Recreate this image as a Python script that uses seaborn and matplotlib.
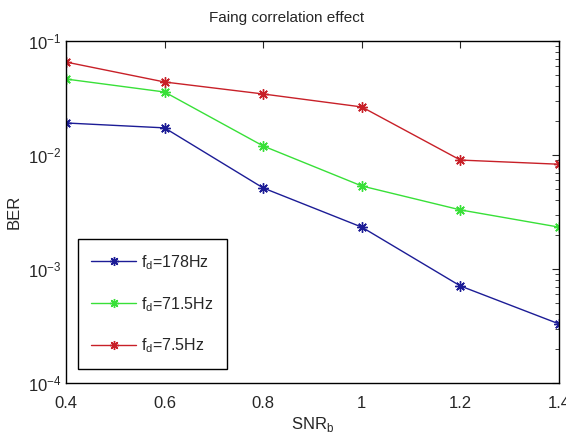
import matplotlib
matplotlib.use("Agg")
import matplotlib.pyplot as plt
import seaborn as sns
import pandas as pd

snr = [0.4, 0.6, 0.8, 1.0, 1.2, 1.4]
ber_178 = [0.0191, 0.0173, 0.00514, 0.00233, 0.00071, 0.00033]
ber_715 = [0.0464, 0.0357, 0.0120, 0.00535, 0.0033, 0.00233]
ber_75 = [0.0654, 0.0437, 0.0343, 0.0264, 0.00903, 0.0083]
labels = ["$\\mathregular{f_d}$=178Hz", "$\\mathregular{f_d}$=71.5Hz", "$\\mathregular{f_d}$=7.5Hz"]
colors = ["#1c1c96", "#38e038", "#c82028"]

df = pd.DataFrame({
    "snr": snr * 3,
    "ber": ber_178 + ber_715 + ber_75,
    "case": [labels[0]] * 6 + [labels[1]] * 6 + [labels[2]] * 6,
})

sns.set_style("white")
plt.rcParams["font.family"] = ["Liberation Sans", "DejaVu Sans"]
plt.rcParams["mathtext.fontset"] = "custom"
plt.rcParams["mathtext.rm"] = "Liberation Sans"

fig = plt.figure(figsize=(5.66, 4.41), dpi=100)
ax = fig.add_axes([0.1166, 0.1315, 0.8710, 0.7755])

sns.lineplot(data=df, x="snr", y="ber", hue="case", palette=colors,
             marker=(8, 2, 0), markersize=7.5, markeredgewidth=1.0, linewidth=1.0,
             ax=ax)
# seaborn paints marker edges white, asterisks need the line colour
for line in ax.get_lines():
    line.set_markeredgecolor(line.get_color())

ax.set_yscale("log")
ax.set_xlim(0.4, 1.4)
ax.set_ylim(1e-4, 1e-1)
ax.set_xticks(snr)
ax.set_xticklabels(["0.4", "0.6", "0.8", "1", "1.2", "1.4"])
ax.tick_params(which="both", direction="in", top=True, right=True, labelsize=12)
ax.tick_params(axis="x", pad=9)
ax.tick_params(which="major", length=5)
ax.tick_params(which="minor", length=3)
for s in ax.spines.values():
    s.set_color("black")
    s.set_linewidth(1.0)

ax.set_title("Faing correlation effect", fontsize=11, x=0.448, pad=14)
ax.set_xlabel("SNR$_\\mathregular{b}$", fontsize=12, labelpad=3)
ax.set_ylabel("BER", fontsize=12, labelpad=4)

leg = ax.legend(loc="lower left", bbox_to_anchor=(0.024, 0.041), fontsize=11.5,
                fancybox=False, edgecolor="black", framealpha=1,
                handlelength=2.8, handletextpad=0.3, borderpad=0.85,
                borderaxespad=0, labelspacing=1.45)
leg.get_frame().set_linewidth(1.0)
for h in leg.get_lines():
    h.set_markeredgecolor(h.get_color())
    h.set_markersize(6.5)

fig.savefig("out.png", dpi=100)
